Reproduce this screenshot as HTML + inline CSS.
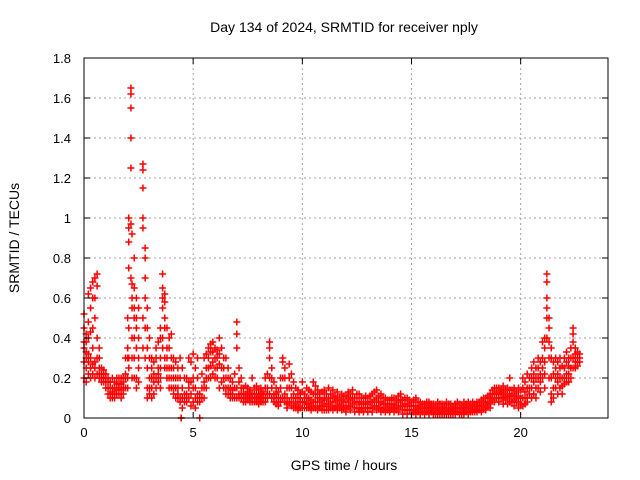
<!DOCTYPE html>
<html><head><meta charset="utf-8"><style>
body{margin:0;background:#fff;}
svg{display:block;font-family:"Liberation Sans",sans-serif;}
</style></head><body>
<svg id="chart" width="640" height="480">
<text x="344" y="32" text-anchor="middle" font-size="14">Day 134 of 2024, SRMTID for receiver nply</text>
<text x="344" y="470" text-anchor="middle" font-size="14">GPS time / hours</text>
<text transform="translate(19,238) rotate(-90)" text-anchor="middle" font-size="14">SRMTID / TECUs</text>
<g id="grid"></g><g id="marks"></g><g id="axes"></g>
</svg>
<script>
const xTicks=[0,5,10,15,20];
const yTicks=[0,0.2,0.4,0.6,0.8,1,1.2,1.4,1.6,1.8];
const yTickLabels=["0","0.2","0.4","0.6","0.8","1","1.2","1.4","1.6","1.8"];
// each row: hour, then SRMTID values observed around that hour
const samples=[
[0.0,0.28,0.45,0.52,0.35,0.2,0.38],[0.1,0.3,0.38,0.25,0.42,0.18,0.33],[0.2,0.22,0.32,0.28,0.62,0.4,0.48],[0.3,0.25,0.55,0.65,0.3,0.2,0.43],
[0.4,0.22,0.45,0.6,0.68,0.35,0.27],[0.5,0.25,0.7,0.6,0.5,0.28,0.2],[0.6,0.72,0.66,0.3,0.22,0.4],[0.7,0.25,0.22,0.2,0.3,0.35],
[0.8,0.22,0.18,0.25,0.2],[0.9,0.24,0.2,0.18,0.22],[1.0,0.2,0.18,0.22,0.15],[1.1,0.15,0.18,0.2,0.12],[1.2,0.12,0.15,0.1,0.18],
[1.3,0.1,0.15,0.13,0.2],[1.4,0.12,0.18,0.15,0.1],[1.5,0.14,0.17,0.12,0.2],[1.6,0.15,0.2,0.17,0.12],[1.7,0.14,0.2,0.17,0.1],
[1.8,0.18,0.2,0.15,0.12],[1.9,0.22,0.15,0.2,0.3],[2.0,0.3,0.35,0.2,0.15,0.5],[2.05,0.95,1.0,0.88,0.75,0.45,0.3,0.25],
[2.15,1.65,1.62,1.55,1.4,1.25,0.97,0.7],[2.2,0.6,0.92,0.67,0.55,0.4,0.3,0.2],[2.3,0.55,0.65,0.8,0.5,0.4,0.3,0.2],
[2.4,0.35,0.45,0.6,0.2,0.15,0.5],[2.5,0.4,0.55,0.3,0.25,0.18],[2.7,1.27,1.24,1.15,1.0,0.95,0.5,0.35],[2.8,0.85,0.8,0.7,0.6,0.45,0.3],
[2.9,0.55,0.45,0.35,0.25,0.15,0.1],[3.0,0.4,0.3,0.2,0.15,0.12],[3.1,0.2,0.15,0.3,0.25,0.1],[3.2,0.22,0.28,0.18,0.12],
[3.3,0.2,0.3,0.35,0.15],[3.4,0.25,0.38,0.22,0.18],[3.5,0.45,0.4,0.3,0.25,0.2,0.15],[3.6,0.72,0.65,0.6,0.55,0.4,0.35],
[3.7,0.62,0.58,0.5,0.45,0.3,0.25],[3.8,0.45,0.35,0.3,0.25,0.2],[3.9,0.4,0.35,0.25,0.15,0.2],[4.0,0.42,0.3,0.25,0.2,0.15],
[4.1,0.3,0.25,0.2,0.15,0.12],[4.2,0.28,0.2,0.15,0.1],[4.3,0.25,0.2,0.15,0.12,0.1],[4.4,0.3,0.2,0.1,0.08],[4.45,0.0,0.0],
[4.5,0.25,0.15,0.1,0.05],[4.6,0.12,0.2,0.08],[4.7,0.2,0.12,0.08,0.1],[4.8,0.3,0.15,0.1,0.18],[4.9,0.28,0.18,0.12,0.06],
[5.0,0.32,0.2,0.15,0.08],[5.1,0.25,0.15,0.1,0.05],[5.2,0.3,0.2,0.12,0.08],[5.3,0.0,0.12,0.08,0.1],[5.4,0.15,0.22,0.1],
[5.5,0.3,0.15,0.1,0.18],[5.6,0.32,0.25,0.2,0.15],[5.7,0.35,0.3,0.25,0.2],[5.8,0.37,0.33,0.26,0.2],[5.9,0.38,0.33,0.28,0.22],
[6.0,0.35,0.3,0.25,0.2],[6.1,0.34,0.3,0.25,0.2],[6.2,0.4,0.32,0.27,0.15],[6.3,0.35,0.25,0.18],[6.4,0.3,0.25,0.2,0.15],
[6.5,0.3,0.2,0.15,0.12],[6.6,0.25,0.2,0.15,0.12],[6.7,0.2,0.15,0.1,0.12],[6.8,0.18,0.14,0.1,0.12],[6.9,0.22,0.15,0.1],
[7.0,0.48,0.42,0.35,0.15,0.1],[7.1,0.25,0.18,0.12,0.1],[7.2,0.2,0.15,0.12,0.1],[7.3,0.15,0.12,0.1,0.08],[7.4,0.16,0.12,0.1,0.08],
[7.5,0.15,0.11,0.09,0.13],[7.6,0.14,0.1,0.08,0.12],[7.7,0.2,0.12,0.1,0.08],[7.8,0.15,0.1,0.08,0.12],[7.9,0.16,0.12,0.1,0.08],
[8.0,0.14,0.11,0.09,0.07],[8.1,0.15,0.12,0.1,0.08],[8.2,0.13,0.1,0.08,0.12],[8.3,0.2,0.15,0.1,0.08],[8.4,0.22,0.15,0.12,0.1],
[8.5,0.38,0.35,0.3,0.2,0.12],[8.6,0.25,0.2,0.15,0.1],[8.7,0.18,0.12,0.1,0.08],[8.8,0.15,0.12,0.1,0.07],[8.9,0.13,0.1,0.08,0.06],
[9.0,0.2,0.15,0.1,0.08],[9.1,0.3,0.28,0.2,0.1],[9.2,0.25,0.2,0.12,0.08],[9.3,0.15,0.1,0.07,0.05],[9.4,0.27,0.2,0.15,0.08],
[9.5,0.22,0.15,0.1,0.06],[9.6,0.18,0.12,0.08,0.05],[9.7,0.15,0.1,0.07,0.05],[9.8,0.14,0.1,0.06,0.04],[9.9,0.12,0.08,0.05,0.1],
[10.0,0.18,0.13,0.08,0.05],[10.1,0.12,0.08,0.05,0.1],[10.2,0.15,0.1,0.07,0.05],[10.3,0.14,0.1,0.07,0.05],[10.4,0.13,0.09,0.06,0.04],
[10.5,0.18,0.12,0.08,0.05],[10.6,0.16,0.12,0.08,0.05],[10.7,0.14,0.1,0.06,0.04],[10.8,0.12,0.08,0.05,0.1],[10.9,0.13,0.09,0.06,0.04],
[11.0,0.14,0.1,0.07,0.04],[11.1,0.12,0.09,0.06,0.04],[11.2,0.15,0.1,0.07,0.04],[11.3,0.12,0.08,0.05],[11.4,0.14,0.1,0.06,0.04],
[11.5,0.11,0.08,0.05],[11.6,0.13,0.09,0.06,0.04],[11.7,0.1,0.07,0.05],[11.8,0.12,0.09,0.06,0.04],[11.9,0.11,0.08,0.05],
[12.0,0.11,0.08,0.05,0.03],[12.1,0.13,0.1,0.06],[12.2,0.12,0.09,0.06,0.04],[12.3,0.14,0.1,0.07],[12.4,0.1,0.08,0.05,0.03],
[12.5,0.12,0.08,0.05],[12.6,0.12,0.08,0.05,0.03],[12.7,0.1,0.07,0.04],[12.8,0.1,0.07,0.05,0.03],[12.9,0.11,0.08,0.05],
[13.0,0.1,0.07,0.05,0.03],[13.1,0.11,0.08,0.05],[13.2,0.12,0.08,0.05,0.03],[13.3,0.13,0.09,0.06],[13.4,0.14,0.1,0.06,0.04],
[13.5,0.11,0.08,0.05],[13.6,0.12,0.08,0.05,0.03],[13.7,0.1,0.07,0.04],[13.8,0.1,0.07,0.05,0.03],[13.9,0.09,0.06,0.04],
[14.0,0.09,0.07,0.04,0.03],[14.1,0.1,0.07,0.05],[14.2,0.1,0.07,0.05,0.03],[14.3,0.09,0.06,0.04],[14.4,0.11,0.08,0.05,0.03],
[14.5,0.12,0.09,0.06],[14.6,0.09,0.06,0.04,0.02],[14.7,0.1,0.07,0.04],[14.8,0.1,0.07,0.04,0.02],[14.9,0.09,0.06,0.04],
[15.0,0.08,0.06,0.04,0.02],[15.1,0.09,0.06,0.03],[15.2,0.1,0.06,0.04,0.02],[15.3,0.08,0.05,0.03],[15.4,0.08,0.06,0.04,0.02],
[15.5,0.07,0.05,0.03],[15.6,0.07,0.05,0.03,0.02],[15.7,0.08,0.05,0.03],[15.8,0.08,0.06,0.04,0.02],[15.9,0.07,0.05,0.03],
[16.0,0.07,0.05,0.03,0.02],[16.1,0.06,0.04,0.02],[16.2,0.08,0.05,0.03,0.02],[16.3,0.07,0.04,0.02],[16.4,0.07,0.05,0.03,0.02],
[16.5,0.06,0.04,0.02],[16.6,0.08,0.05,0.03,0.02],[16.7,0.07,0.04,0.02],[16.8,0.07,0.05,0.03,0.02],[16.9,0.06,0.04,0.02],
[17.0,0.07,0.05,0.03,0.02],[17.1,0.08,0.05,0.03],[17.2,0.07,0.05,0.03,0.02],[17.3,0.06,0.04,0.02],[17.4,0.08,0.05,0.03,0.02],
[17.5,0.07,0.05,0.03],[17.6,0.08,0.06,0.04,0.02],[17.7,0.07,0.05,0.03],[17.8,0.08,0.06,0.04,0.03],[17.9,0.07,0.05,0.03],
[18.0,0.08,0.06,0.04,0.03],[18.1,0.08,0.06,0.04],[18.2,0.09,0.06,0.04,0.03],[18.3,0.1,0.07,0.05],[18.4,0.1,0.08,0.05,0.04],
[18.5,0.11,0.08,0.06],[18.6,0.12,0.1,0.07,0.05],[18.7,0.14,0.12,0.09],[18.8,0.15,0.12,0.1,0.08],[18.9,0.15,0.13,0.1],
[19.0,0.15,0.12,0.1,0.08],[19.1,0.14,0.12,0.1],[19.2,0.16,0.13,0.1,0.07],[19.3,0.14,0.11,0.09],[19.4,0.15,0.12,0.1,0.07],
[19.5,0.2,0.14,0.11,0.08],[19.6,0.14,0.11,0.08],[19.7,0.15,0.12,0.09,0.06],[19.8,0.13,0.1,0.08],[19.9,0.15,0.11,0.08,0.05],
[20.0,0.14,0.1,0.07],[20.1,0.2,0.15,0.1,0.06],[20.2,0.18,0.13,0.1,0.07],[20.3,0.22,0.15,0.1,0.08],[20.4,0.2,0.15,0.12],
[20.5,0.25,0.2,0.15,0.1],[20.6,0.28,0.22,0.18,0.12],[20.7,0.25,0.2,0.15,0.1],[20.8,0.3,0.25,0.2,0.15],[20.9,0.28,0.22,0.18,0.13],
[21.0,0.38,0.3,0.25,0.2],[21.1,0.4,0.35,0.28,0.22,0.15],[21.2,0.72,0.68,0.6,0.55,0.5,0.4],[21.3,0.5,0.45,0.38,0.3,0.2],
[21.4,0.35,0.3,0.2,0.12,0.08],[21.5,0.28,0.22,0.15,0.1],[21.6,0.3,0.25,0.2,0.15],[21.7,0.28,0.22,0.18,0.12],
[21.8,0.3,0.25,0.2,0.15],[21.9,0.26,0.2,0.16,0.12],[22.0,0.3,0.25,0.2,0.17],[22.1,0.33,0.28,0.22,0.18],[22.2,0.3,0.26,0.22,0.18],
[22.3,0.35,0.3,0.25,0.2],[22.4,0.45,0.42,0.38,0.3,0.25],[22.5,0.35,0.32,0.28,0.25],[22.6,0.33,0.3,0.28,0.26],[22.7,0.32,0.3,0.28]
];
const NS="http://www.w3.org/2000/svg";
const L=84,R=608,T=58,B=418,xMax=24,yMax=1.8;
function xs(v){return L+(R-L)*v/xMax;}
function ys(v){return B-(B-T)*v/yMax;}
function mk(tag,attrs,parent){const e=document.createElementNS(NS,tag);for(const k in attrs)e.setAttribute(k,attrs[k]);parent.appendChild(e);return e;}
const grid=document.getElementById('grid'),axes=document.getElementById('axes'),marks=document.getElementById('marks');
xTicks.forEach(t=>{
 if(t>0){const g=mk('line',{x1:xs(t),x2:xs(t),y1:T,y2:B,stroke:'#a0a0a0','stroke-dasharray':'2,3'},grid);
 
 }
 const a=mk('line',{x1:xs(t),x2:xs(t),y1:B,y2:B-6,stroke:'#000'},axes);
 
 
 const b=mk('line',{x1:xs(t),x2:xs(t),y1:T,y2:T+6,stroke:'#000'},axes);
 
 
 const tx=mk('text',{x:xs(t),y:B+19,'text-anchor':'middle','font-size':'13'},axes);tx.textContent=t;
 
 
});
yTicks.forEach((t,i)=>{
 if(t>0&&t<yMax){const g=mk('line',{x1:L,x2:R,y1:ys(t),y2:ys(t),stroke:'#a0a0a0','stroke-dasharray':'2,3'},grid);
 
 }
 const a=mk('line',{x1:L,x2:L+6,y1:ys(t),y2:ys(t),stroke:'#000'},axes);
 
 
 const b=mk('line',{x1:R,x2:R-6,y1:ys(t),y2:ys(t),stroke:'#000'},axes);
 
 
 const tx=mk('text',{x:L-13,y:ys(t)+5,'text-anchor':'end','font-size':'13'},axes);tx.textContent=yTickLabels[i];
 
 
});
const fr=mk('rect',{x:L,y:T,width:R-L,height:B-T,fill:'none',stroke:'#000'},axes);


samples.forEach(row=>{const h=row[0];row.slice(1).forEach(v=>{
 const x=xs(h),y=ys(v);
 const p=mk('path',{d:`M${x-3.5},${y}h7M${x},${y-3.5}v7`,stroke:'#ff0000','stroke-width':'1.5',fill:'none'},marks);
 
 
});});
</script>
</body></html>
